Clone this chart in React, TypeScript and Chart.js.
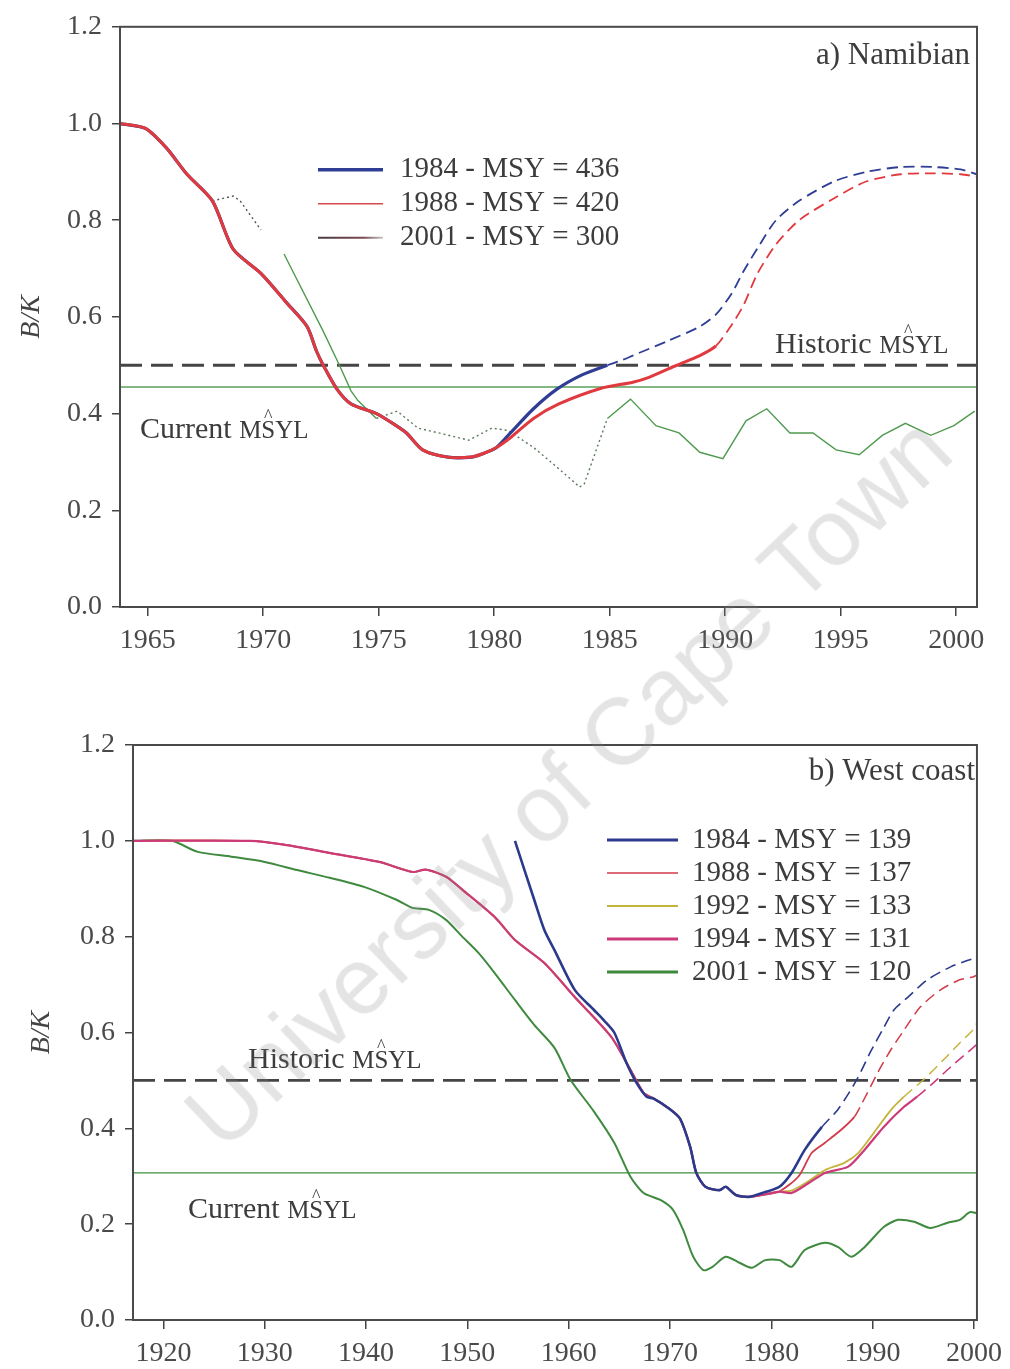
import React, { useEffect, useRef } from "react";
import { Chart, registerables } from "chart.js";
Chart.register(...registerables);

const FONT = "'Liberation Serif', 'Times New Roman', serif";

// ---------- a) Namibian ----------
const namibXTicks = [1965, 1970, 1975, 1980, 1985, 1990, 1995, 2000];
const yTicks = [0, 0.2, 0.4, 0.6, 0.8, 1.0, 1.2];
const namibLegendLabels = ["1984 - MSY = 436", "1988 - MSY = 420", "2001 - MSY = 300"];

const namibBlueYears = [1963.8, 1964.9, 1965.8, 1966.7, 1967.8, 1968.7, 1969.9, 1971.0, 1971.9, 1972.3, 1972.6, 1973.2, 1973.8, 1974.9, 1975.6, 1976.2, 1976.9, 1978.0, 1979.0, 1979.5, 1980.1, 1980.7, 1981.7, 1982.7, 1983.8, 1984.9, 1985.5, 1986.0, 1987.5, 1988.9, 1989.6, 1990.3, 1990.8, 1991.5, 1992.2, 1993.2, 1994.7, 1996.1, 1997.6, 1999.0, 2000.2, 2000.9];
const namibBlueValues = [1.0, 0.99, 0.95, 0.895, 0.84, 0.74, 0.69, 0.63, 0.58, 0.53, 0.50, 0.45, 0.42, 0.40, 0.38, 0.36, 0.325, 0.31, 0.31, 0.317, 0.33, 0.36, 0.41, 0.45, 0.48, 0.50, 0.51, 0.52, 0.55, 0.58, 0.605, 0.65, 0.695, 0.75, 0.80, 0.84, 0.88, 0.90, 0.91, 0.91, 0.905, 0.895];

const namibRedYears = [1963.8, 1964.9, 1965.8, 1966.7, 1967.8, 1968.7, 1969.9, 1971.0, 1971.9, 1972.3, 1972.6, 1973.2, 1973.8, 1974.9, 1975.6, 1976.2, 1976.9, 1978.0, 1979.0, 1979.5, 1980.1, 1980.7, 1981.7, 1982.8, 1984.6, 1986.0, 1986.7, 1987.9, 1988.9, 1989.6, 1990.3, 1990.8, 1991.4, 1992.2, 1993.2, 1994.7, 1996.1, 1997.6, 1999.0, 2000.2, 2000.9];
const namibRedValues = [1.0, 0.99, 0.95, 0.895, 0.84, 0.74, 0.69, 0.63, 0.58, 0.53, 0.50, 0.45, 0.42, 0.40, 0.38, 0.36, 0.325, 0.31, 0.31, 0.317, 0.33, 0.35, 0.39, 0.42, 0.452, 0.465, 0.475, 0.50, 0.52, 0.54, 0.585, 0.625, 0.69, 0.75, 0.80, 0.845, 0.88, 0.895, 0.897, 0.895, 0.89];

const namibGreenYears = [1963.8, 1964.9, 1965.8, 1966.7, 1967.8, 1968.7, 1969.0, 1969.9, 1970.4, 1970.9, 1972.6, 1973.3, 1973.8, 1974.1, 1974.9, 1975.8, 1976.7, 1977.6, 1978.9, 1979.9, 1980.6, 1981.7, 1982.7, 1983.7, 1983.9, 1984.9, 1985.9, 1987.0, 1988.0, 1988.9, 1989.9, 1990.9, 1991.8, 1992.8, 1993.8, 1994.8, 1995.8, 1996.8, 1997.8, 1998.9, 1999.9, 2000.8];
const namibGreenValues = [1.0, 0.99, 0.95, 0.895, 0.84, 0.85, 0.84, 0.78, null, 0.73, 0.57, 0.50, 0.447, 0.427, 0.39, 0.405, 0.37, 0.36, 0.345, 0.37, 0.365, 0.33, 0.29, 0.248, 0.255, 0.39, 0.43, 0.375, 0.36, 0.32, 0.307, 0.385, 0.41, 0.36, 0.36, 0.325, 0.315, 0.355, 0.38, 0.355, 0.375, 0.405];

const namibHistoricMsyl = 0.5;
const namibCurrentMsyl = 0.455;

// ---------- b) West coast ----------
const westXTicks = [1920, 1930, 1940, 1950, 1960, 1970, 1980, 1990, 2000];
const westLegendLabels = ["1984 - MSY = 139", "1988 - MSY = 137", "1992 - MSY = 133", "1994 - MSY = 131", "2001 - MSY = 120"];

const westEarlyYears = [1917, 1928.6, 1931.9, 1936.4, 1941.3, 1944.6, 1945.9, 1947.9, 1949.5, 1952.7, 1954.7, 1957.6, 1960.6, 1964.2, 1966.1, 1967.4];
const westEarlyValues = [1.0, 1.0, 0.992, 0.975, 0.956, 0.935, 0.94, 0.925, 0.898, 0.841, 0.793, 0.745, 0.674, 0.591, 0.522, 0.474];
const westMidYears = [1968.4, 1970.0, 1971.0, 1972.0, 1972.6, 1973.5, 1974.9, 1975.5, 1976.5, 1977.8, 1979.4, 1980.8];
const westMidValues = [0.462, 0.44, 0.42, 0.361, 0.307, 0.278, 0.271, 0.278, 0.261, 0.257, 0.262, 0.268];

const westBlueYears = [1954.7, 1956.6, 1957.6, 1958.6, 1960.6, 1962.5, 1963.5, 1964.5, 1965.7, 1966.7, 1967.7, 1968.4, 1970.0, 1971.0, 1972.0, 1972.6, 1973.5, 1974.9, 1975.5, 1976.5, 1977.8, 1979.4, 1980.8, 1982.0, 1983.3, 1985.0, 1986.6, 1988.4, 1989.8, 1991.1, 1992.1, 1993.5, 1995.4, 1997.7, 1999.6, 2000.3];
const westBlueValues = [1.0, 0.877, 0.814, 0.772, 0.689, 0.647, 0.625, 0.60, 0.537, 0.495, 0.466, 0.462, 0.44, 0.42, 0.361, 0.307, 0.278, 0.271, 0.278, 0.261, 0.257, 0.267, 0.278, 0.307, 0.355, 0.403, 0.44, 0.50, 0.56, 0.61, 0.647, 0.674, 0.71, 0.737, 0.752, 0.756];

const westRedLateYears = [1982.7, 1984.0, 1985.3, 1986.9, 1988.2, 1988.9, 1990.5, 1991.8, 1993.1, 1994.7, 1996.7, 1998.6, 1999.9, 2000.3];
const westRedLateValues = [0.30, 0.349, 0.37, 0.397, 0.424, 0.45, 0.516, 0.564, 0.605, 0.653, 0.689, 0.71, 0.716, 0.72];

const westYellowLateYears = [1982.0, 1983.7, 1985.3, 1987.2, 1988.6, 1990.1, 1991.8, 1993.1, 1995.0, 1997.0, 1998.6, 1999.9, 2000.3];
const westYellowLateValues = [0.27, 0.29, 0.313, 0.328, 0.349, 0.39, 0.438, 0.466, 0.501, 0.543, 0.578, 0.605, 0.62];

const westMagentaLateYears = [1982.0, 1983.7, 1985.3, 1987.6, 1989.2, 1991.1, 1993.1, 1994.4, 1996.0, 1997.7, 1999.9, 2000.3];
const westMagentaLateValues = [0.265, 0.286, 0.307, 0.32, 0.355, 0.403, 0.445, 0.466, 0.495, 0.528, 0.568, 0.575];

const westGreenYears = [1917, 1920.8, 1923.4, 1926.7, 1930.0, 1933.2, 1936.4, 1939.8, 1943.0, 1944.6, 1946.2, 1947.9, 1949.5, 1951.1, 1952.7, 1954.7, 1956.6, 1958.6, 1960.2, 1962.5, 1964.5, 1966.1, 1967.4, 1969.1, 1970.3, 1971.3, 1972.3, 1973.3, 1974.2, 1975.5, 1976.9, 1978.1, 1979.4, 1980.8, 1982.0, 1983.3, 1985.3, 1986.6, 1987.9, 1989.2, 1991.1, 1992.5, 1994.1, 1995.7, 1997.4, 1998.6, 1999.6, 2000.3];
const westGreenValues = [1.0, 1.0, 0.977, 0.967, 0.956, 0.939, 0.923, 0.904, 0.877, 0.86, 0.856, 0.835, 0.8, 0.766, 0.724, 0.668, 0.616, 0.568, 0.501, 0.435, 0.37, 0.299, 0.265, 0.25, 0.23, 0.188, 0.132, 0.104, 0.111, 0.132, 0.119, 0.109, 0.125, 0.125, 0.111, 0.146, 0.161, 0.152, 0.132, 0.152, 0.194, 0.209, 0.205, 0.192, 0.203, 0.209, 0.225, 0.223];

const westHistoricMsyl = 0.5;
const westCurrentMsyl = 0.307;

// ---------- helpers ----------
const zip = (xs: number[], ys: (number | null)[]) => xs.map((x, i) => ({ x, y: ys[i] }));

function forecastLine(label: string, data: any[], color: string, cut: number, solidW: number, dashW: number, order: number) {
  return {
    label,
    data,
    borderColor: color,
    borderWidth: solidW,
    pointRadius: 0,
    tension: 0.25,
    order,
    segment: {
      borderDash: (c: any) => (c.p0.parsed.x >= cut - 1e-6 ? [11, 6] : undefined),
      borderWidth: (c: any) => (c.p0.parsed.x >= cut - 1e-6 ? dashW : undefined),
    },
  };
}

function hLine(value: number, min: number, max: number, color: string, width: number, dash: number[] | undefined, order: number) {
  return {
    label: "",
    data: [{ x: min, y: value }, { x: max, y: value }],
    borderColor: color,
    borderWidth: width,
    borderDash: dash,
    pointRadius: 0,
    order,
  };
}

function drawMsyl(ctx: CanvasRenderingContext2D, prefix: string, x: number, y: number) {
  ctx.save();
  ctx.fillStyle = "#3c3c3c";
  ctx.textAlign = "left";
  ctx.textBaseline = "alphabetic";
  ctx.font = `30px ${FONT}`;
  ctx.fillText(prefix, x, y);
  const cx = x + ctx.measureText(prefix).width;
  ctx.font = `25px ${FONT}`;
  const mW = ctx.measureText("M").width;
  const sW = ctx.measureText("S").width;
  ctx.fillText("MSYL", cx, y);
  ctx.font = `18px ${FONT}`;
  ctx.textAlign = "center";
  ctx.fillText("^", cx + mW + sW / 2, y - 16);
  ctx.restore();
}

const annotPlugin = {
  id: "annot",
  afterDatasetsDraw(chart: any, _args: any, opts: any) {
    const { ctx, chartArea } = chart;
    const ys = chart.scales.y;
    ctx.save();
    // frame
    ctx.strokeStyle = "#4a4a4a";
    ctx.lineWidth = 2;
    ctx.strokeRect(chartArea.left, chartArea.top, chartArea.right - chartArea.left, chartArea.bottom - chartArea.top);
    // y title
    ctx.save();
    ctx.translate(opts.titleX, (chartArea.top + chartArea.bottom) / 2);
    ctx.rotate(-Math.PI / 2);
    ctx.fillStyle = "#444";
    ctx.font = `italic 28px ${FONT}`;
    ctx.textAlign = "center";
    ctx.textBaseline = "middle";
    ctx.fillText("B/K", 0, 0);
    ctx.restore();
    // panel label
    ctx.fillStyle = "#3c3c3c";
    ctx.font = `31px ${FONT}`;
    ctx.textAlign = "right";
    ctx.textBaseline = "middle";
    ctx.fillText(opts.panel, opts.panelX, chartArea.top + opts.panelDy);
    // MSYL labels
    drawMsyl(ctx, "Historic ", opts.histX, ys.getPixelForValue(opts.hist) + opts.histDy);
    drawMsyl(ctx, "Current ", opts.curX, ys.getPixelForValue(opts.cur) + opts.curDy);
    // legend
    const L = opts.legend;
    L.items.forEach((it: any, i: number) => {
      const y = chartArea.top + L.y0 + i * L.dy;
      let stroke: any = it.color;
      if (it.fade) {
        const g = ctx.createLinearGradient(L.x0, 0, L.x1, 0);
        g.addColorStop(0, "#4a3a44");
        g.addColorStop(0.7, "#7a4a50");
        g.addColorStop(1, "#c8c8c8");
        stroke = g;
      }
      ctx.beginPath();
      ctx.strokeStyle = stroke;
      ctx.lineWidth = it.width;
      ctx.moveTo(L.x0, y);
      ctx.lineTo(L.x1, y);
      ctx.stroke();
      ctx.fillStyle = "#3c3c3c";
      ctx.font = `29px ${FONT}`;
      ctx.textAlign = "left";
      ctx.textBaseline = "middle";
      ctx.fillText(it.label, L.textX, y);
    });
    ctx.restore();
  },
};

function makeOptions(p: any) {
  return {
    responsive: false,
    maintainAspectRatio: false,
    animation: false,
    devicePixelRatio: 1,
    layout: { padding: { top: p.padTop, right: p.padRight, left: 0, bottom: 0 } },
    plugins: { legend: { display: false }, tooltip: { enabled: false }, annot: p.annot },
    scales: {
      x: {
        type: "linear",
        min: p.xMin,
        max: p.xMax,
        afterBuildTicks: (s: any) => { s.ticks = p.xTicks.map((v: number) => ({ value: v })); },
        afterFit: (s: any) => { s.height = p.xHeight; },
        ticks: {
          autoSkip: false,
          maxRotation: 0,
          padding: 8,
          color: "#4a4a4a",
          font: { family: FONT, size: 28 },
          callback: (v: any) => String(v),
        },
        grid: { display: true, drawOnChartArea: false, drawTicks: true, tickLength: 9, color: "#444", lineWidth: 1.5 },
        border: { display: true, color: "#4a4a4a", width: 2 },
      },
      y: {
        type: "linear",
        min: 0,
        max: 1.2,
        afterBuildTicks: (s: any) => { s.ticks = yTicks.map((v) => ({ value: v })); },
        afterFit: (s: any) => { s.width = p.yWidth; },
        ticks: {
          padding: 10,
          color: "#4a4a4a",
          font: { family: FONT, size: 28 },
          callback: (v: any) => Number(v).toFixed(1),
        },
        grid: { display: true, drawOnChartArea: false, drawTicks: true, tickLength: 8, color: "#444", lineWidth: 1.5 },
        border: { display: true, color: "#4a4a4a", width: 2 },
      },
    },
  };
}

function ChartPanel({ top, height, config }: { top: number; height: number; config: any }) {
  const ref = useRef<HTMLCanvasElement | null>(null);
  useEffect(() => {
    if (!ref.current) return;
    const chart = new Chart(ref.current, { type: "line", data: { datasets: config.datasets }, options: config.options, plugins: [annotPlugin] } as any);
    return () => chart.destroy();
  }, []);
  return (
    <canvas ref={ref} width={1010} height={height} style={{ position: "absolute", left: 0, top, width: 1010, height }} />
  );
}

const N_MIN = 1963.8, N_MAX = 2000.9;
const namibColors = { blue: "#2f3e94", red: "#e0393e", green: "#4f9a4f" };
const namibDatasets = [
  forecastLine(namibLegendLabels[1], zip(namibRedYears, namibRedValues), namibColors.red, 1989.4, 3, 1.8, 0),
  forecastLine(namibLegendLabels[0], zip(namibBlueYears, namibBlueValues), namibColors.blue, 1984.8, 3.2, 1.8, 1),
  {
    label: namibLegendLabels[2],
    data: zip(namibGreenYears, namibGreenValues),
    borderColor: namibColors.green,
    borderWidth: 1.4,
    pointRadius: 0,
    tension: 0,
    spanGaps: false,
    order: 2,
    segment: {
      borderDash: (c: any) => {
        const a = c.p0.parsed.x, b = c.p1.parsed.x;
        if ((a >= 1967.7 && b <= 1970.01) || (a >= 1974.8 && b <= 1985.0)) return [2, 3];
        return undefined;
      },
      borderColor: (c: any) => {
        const a = c.p0.parsed.x, b = c.p1.parsed.x;
        if (a >= 1967.7 && b <= 1970.01) return "#555";
        if (a >= 1974.8 && b <= 1985.0) return "#5c7a5c";
        return undefined;
      },
    },
  },
  hLine(namibHistoricMsyl, N_MIN, N_MAX, "#454545", 3, [22, 9], 3),
  hLine(namibCurrentMsyl, N_MIN, N_MAX, "#5aa05a", 1.4, undefined, 4),
];
const namibOptions = makeOptions({
  padTop: 24, padRight: 33, xMin: N_MIN, xMax: N_MAX, xTicks: namibXTicks, xHeight: 63, yWidth: 120,
  annot: {
    titleX: 32, panel: "a) Namibian", panelX: 970, panelDy: 29,
    hist: namibHistoricMsyl, histX: 775, histDy: -12,
    cur: namibCurrentMsyl, curX: 140, curDy: 51,
    legend: {
      x0: 318, x1: 383, textX: 400, y0: 143, dy: 34,
      items: [
        { label: namibLegendLabels[0], color: namibColors.blue, width: 3.5 },
        { label: namibLegendLabels[1], color: "#d8474a", width: 1.6 },
        { label: namibLegendLabels[2], color: "#555", width: 2, fade: true },
      ],
    },
  },
});

const W_MIN = 1917.0, W_MAX = 2000.3;
const westColors = { blue: "#2c3a8c", red: "#d23a4a", yellow: "#c4b43a", magenta: "#cc3a7a", green: "#3f8a3f" };
const westDatasets = [
  forecastLine(westLegendLabels[0], zip(westBlueYears, westBlueValues), westColors.blue, 1984.0, 2.6, 1.6, 0),
  forecastLine(westLegendLabels[3], zip([...westEarlyYears, ...westMidYears, ...westMagentaLateYears], [...westEarlyValues, ...westMidValues, ...westMagentaLateValues]), westColors.magenta, 1994.0, 2.2, 1.6, 1),
  forecastLine(westLegendLabels[2], zip([...westEarlyYears, ...westMidYears, ...westYellowLateYears], [...westEarlyValues, ...westMidValues, ...westYellowLateValues]), westColors.yellow, 1992.0, 1.8, 1.5, 2),
  forecastLine(westLegendLabels[1], zip([...westEarlyYears, ...westMidYears, ...westRedLateYears], [...westEarlyValues, ...westMidValues, ...westRedLateValues]), westColors.red, 1988.0, 1.8, 1.5, 3),
  { label: westLegendLabels[4], data: zip(westGreenYears, westGreenValues), borderColor: westColors.green, borderWidth: 2, pointRadius: 0, tension: 0.25, order: 4 },
  hLine(westHistoricMsyl, W_MIN, W_MAX, "#454545", 2.6, [22, 9], 5),
  hLine(westCurrentMsyl, W_MIN, W_MAX, "#3f8f3f", 1.4, undefined, 6),
];
const westOptions = makeOptions({
  padTop: 55, padRight: 23, xMin: W_MIN, xMax: W_MAX, xTicks: westXTicks, xHeight: 49, yWidth: 133,
  annot: {
    titleX: 42, panel: "b) West coast", panelX: 975, panelDy: 27,
    hist: westHistoricMsyl, histX: 248, histDy: -12,
    cur: westCurrentMsyl, curX: 188, curDy: 45,
    legend: {
      x0: 607, x1: 678, textX: 692, y0: 95, dy: 33,
      items: [
        { label: westLegendLabels[0], color: westColors.blue, width: 3.2 },
        { label: westLegendLabels[1], color: westColors.red, width: 1.5 },
        { label: westLegendLabels[2], color: westColors.yellow, width: 1.8 },
        { label: westLegendLabels[3], color: westColors.magenta, width: 3 },
        { label: westLegendLabels[4], color: westColors.green, width: 3 },
      ],
    },
  },
});

export default function App() {
  return (
    <div style={{ position: "absolute", left: 0, top: 0, width: 1010, height: 1369, overflow: "hidden", background: "#fff" }}>
      <ChartPanel top={0} height={670} config={{ datasets: namibDatasets, options: namibOptions }} />
      <ChartPanel top={690} height={679} config={{ datasets: westDatasets, options: westOptions }} />
      <div
        style={{
          position: "absolute",
          left: 568,
          top: 782,
          transform: "translate(-50%, -50%) rotate(-43.5deg)",
          whiteSpace: "nowrap",
          fontFamily: "'Liberation Sans', Arial, sans-serif",
          fontSize: 94,
          color: "rgba(130,130,130,0.22)",
          pointerEvents: "none",
        }}
      >
        University of Cape Town
      </div>
    </div>
  );
}
